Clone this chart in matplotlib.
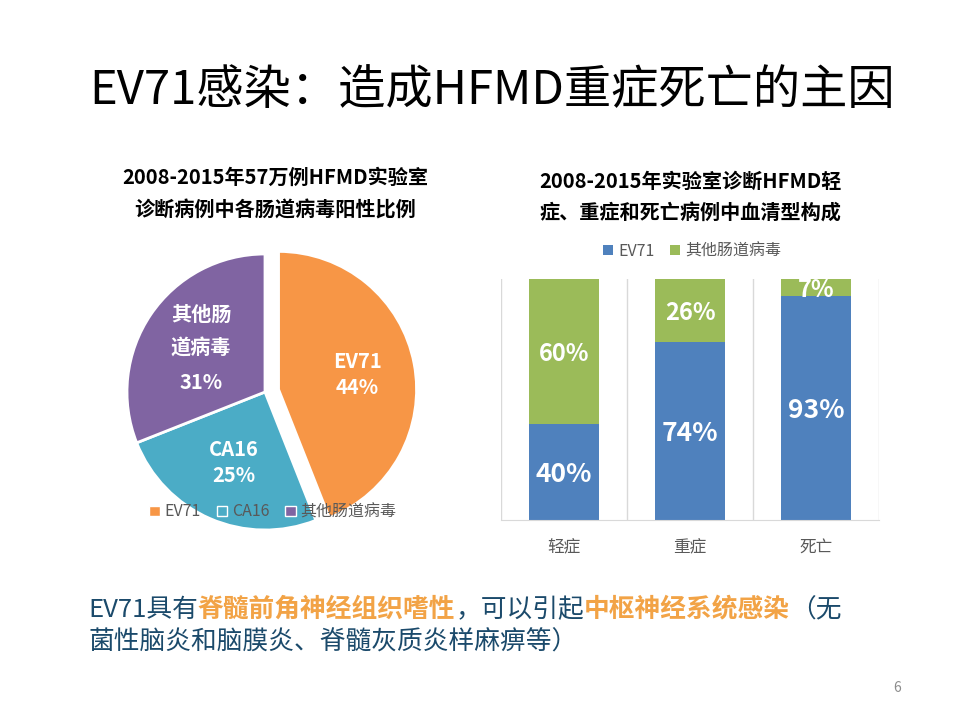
import matplotlib

matplotlib.use("Agg")
import matplotlib.pyplot as plt
import numpy as np
from matplotlib.patches import Patch

plt.rcParams["font.family"] = ["Noto Sans CJK SC", "DejaVu Sans"]

# pie: share of enterovirus-positive lab-confirmed cases
PIE_NAMES: list[str] = ["EV71", "CA16", "其他肠道病毒"]
PIE_INNER_LABELS: list[str] = ["EV71", "CA16", "其他肠\n道病毒"]
PIE_SHARES: list[int] = [44, 25, 31]

# stacked bars: serotype make-up by severity
BAR_CATEGORIES: list[str] = ["轻症", "重症", "死亡"]
EV71_SHARES: list[int] = [40, 74, 93]
OTHER_SHARES: list[int] = [60, 26, 7]

TITLE: str = "EV71感染：造成HFMD重症死亡的主因"
PIE_TITLE: str = "2008-2015年57万例HFMD实验室\n诊断病例中各肠道病毒阳性比例"
BAR_TITLE: str = "2008-2015年实验室诊断HFMD轻\n症、重症和死亡病例中血清型构成"
NOTE_LINE1: list[tuple[str, bool]] = [
    ("EV71具有", False),
    ("脊髓前角神经组织嗜性", True),
    ("，可以引起", False),
    ("中枢神经系统感染", True),
    ("（无", False),
]
NOTE_LINE2: str = "菌性脑炎和脑膜炎、脊髓灰质炎样麻痹等）"
PAGE_NO: str = "6"

PIE_COLORS: list[str] = ["#F79646", "#4BACC6", "#8064A2"]
BLUE: str = "#4F81BD"
GREEN: str = "#9BBB59"
GREY_TEXT: str = "#595959"
GRID: str = "#D9D9D9"
NOTE_DARK: str = "#1B4A6B"
NOTE_ORANGE: str = "#F2A346"
FIG_W, FIG_H = 960, 720


def px_box(left: float, top: float, right: float, bottom: float) -> list[float]:
    return [left / FIG_W, 1 - bottom / FIG_H, (right - left) / FIG_W, (bottom - top) / FIG_H]


fig = plt.figure(figsize=(9.6, 7.2), dpi=100)
fig.patch.set_facecolor("white")

fig.text(492 / FIG_W, 1 - 91 / FIG_H, TITLE, ha="center", va="center", fontsize=34, color="black")

# ---- pie ----
cx, cy, r = 265, 392, 138
lim = 1.15
ax_pie = fig.add_axes(px_box(cx - r * lim, cy - r * lim, cx + r * lim, cy + r * lim))
wedges, _ = ax_pie.pie(
    PIE_SHARES,
    colors=PIE_COLORS,
    startangle=90,
    counterclock=False,
    explode=[0.1, 0, 0],
    wedgeprops={"edgecolor": "white", "linewidth": 2},
)
ax_pie.set_xlim(-lim, lim)
ax_pie.set_ylim(-lim, lim)
ax_pie.set_aspect("equal")
ax_pie.axis("off")
label_dist = [0.58, 0.56, 0.56]
label_spacing = [1.3, 1.3, 1.75]
for wedge, name, share, dist, ls in zip(wedges, PIE_INNER_LABELS, PIE_SHARES, label_dist, label_spacing):
    ang = np.deg2rad((wedge.theta1 + wedge.theta2) / 2)
    x0, y0 = wedge.center
    ax_pie.text(
        x0 + dist * np.cos(ang),
        y0 + dist * np.sin(ang),
        f"{name}\n{share}%",
        ha="center",
        va="center",
        color="white",
        fontsize=14.5,
        fontweight="bold",
        linespacing=ls,
    )

fig.text(275 / FIG_W, 1 - 194 / FIG_H, PIE_TITLE, ha="center", va="center",
         fontsize=14.5, fontweight="bold", linespacing=1.7)

pie_handles = [Patch(facecolor=c, edgecolor="white", linewidth=1) for c in PIE_COLORS]
fig.legend(
    pie_handles, PIE_NAMES, loc="center", bbox_to_anchor=(273 / FIG_W, 1 - 512 / FIG_H),
    ncol=3, frameon=False, fontsize=11.5, labelcolor=GREY_TEXT,
    handlelength=0.65, handleheight=0.65, handletextpad=0.3, columnspacing=1.0,
)

# ---- stacked bars ----
ax_bar = fig.add_axes(px_box(501, 279, 879, 520))
x = np.arange(len(BAR_CATEGORIES))
bar_w = 0.555
b1 = ax_bar.bar(x, EV71_SHARES, width=bar_w, color=BLUE, label="EV71", zorder=2)
b2 = ax_bar.bar(x, OTHER_SHARES, width=bar_w, bottom=EV71_SHARES, color=GREEN,
                label="其他肠道病毒", zorder=2)
ax_bar.set_xlim(-0.5, len(BAR_CATEGORIES) - 0.5)
ax_bar.set_ylim(0, 100)
for gx in np.arange(-0.5, len(BAR_CATEGORIES), 1.0):
    ax_bar.axvline(gx, color=GRID, linewidth=1, zorder=1)
for side in ["top", "left", "right"]:
    ax_bar.spines[side].set_visible(False)
ax_bar.spines["bottom"].set_color(GRID)
ax_bar.set_yticks([])
ax_bar.set_xticks(x)
ax_bar.set_xticklabels(BAR_CATEGORIES)
ax_bar.tick_params(axis="x", length=0, pad=14, labelsize=12, labelcolor=GREY_TEXT)

for i, (v1, v2) in enumerate(zip(EV71_SHARES, OTHER_SHARES)):
    ax_bar.text(i, v1 / 2, f"{v1}%", ha="center", va="center_baseline", color="white",
                fontsize=19, fontweight="bold", zorder=3)
    ax_bar.text(i, v1 + v2 / 2, f"{v2}%", ha="center", va="center_baseline", color="white",
                fontsize=17, fontweight="bold", zorder=3, clip_on=True)

fig.text(690 / FIG_W, 1 - 197 / FIG_H, BAR_TITLE, ha="center", va="center",
         fontsize=14.5, fontweight="bold", linespacing=1.55)

fig.legend(
    [b1, b2], ["EV71", "其他肠道病毒"], loc="center", bbox_to_anchor=(692 / FIG_W, 1 - 251 / FIG_H),
    ncol=2, frameon=False, fontsize=11.5, labelcolor=GREY_TEXT,
    handlelength=0.65, handleheight=0.65, handletextpad=0.3, columnspacing=1.0,
)

# ---- note at the bottom, pieces chained left to right ----
prev = fig.text(88 / FIG_W, 1 - 623 / FIG_H, NOTE_LINE1[0][0], ha="left", va="bottom",
                fontsize=18.5, color=NOTE_DARK)
for text, strong in NOTE_LINE1[1:]:
    prev = fig.add_artist(plt.Annotation(
        text, xy=(1, 0), xycoords=prev, ha="left", va="bottom", fontsize=18.5,
        color=NOTE_ORANGE if strong else NOTE_DARK, fontweight="bold" if strong else "normal",
    ))
fig.text(88 / FIG_W, 1 - 656 / FIG_H, NOTE_LINE2, ha="left", va="bottom",
         fontsize=18.5, color=NOTE_DARK)

fig.text(897 / FIG_W, 1 - 688 / FIG_H, PAGE_NO, ha="center", va="center", fontsize=10, color="#8C8C8C")

fig.savefig("out.png", dpi=100, facecolor="white")
